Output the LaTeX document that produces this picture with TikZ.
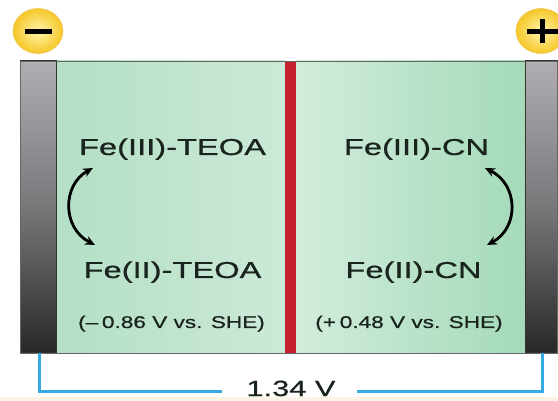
\documentclass[tikz,border=0pt]{standalone}
\usepackage{fontspec}
\setmainfont{Liberation Sans}
\newfontfamily\lblfont[FakeBold=0.6]{Liberation Sans}
\usetikzlibrary{arrows.meta}
\definecolor{membr}{HTML}{C4202E}
\definecolor{wire}{HTML}{35A9E1}
\definecolor{txt}{HTML}{1A241E}
\definecolor{cream}{RGB}{253,243,228}
\definecolor{lcl}{RGB}{180,223,198}
\definecolor{lcr}{RGB}{204,233,215}
\definecolor{rcl}{RGB}{210,236,220}
\definecolor{rcr}{RGB}{164,218,185}
\definecolor{termin}{RGB}{255,244,170}
\definecolor{termout}{RGB}{245,200,40}
\definecolor{termdraw}{RGB}{242,198,90}
\definecolor{eltop}{RGB}{176,174,179}
\definecolor{elmid}{RGB}{120,119,122}
\definecolor{elbot}{RGB}{40,40,40}
\definecolor{eldraw}{RGB}{50,50,50}
\newcommand\widetext[2]{\scalebox{#1}[1]{#2}}
\tikzset{
  bigtxt/.style={anchor=base, inner sep=0pt, text=txt, font=\lblfont\fontsize{23}{23}\selectfont},
  smalltxt/.style={anchor=base, inner sep=0pt, text=txt, font=\lblfont\fontsize{17}{17}\selectfont},
  volttxt/.style={anchor=base, inner sep=0pt, text=txt, font=\lblfont\fontsize{22}{22}\selectfont},
  redox/.style={{Stealth[length=10pt,width=9pt]}-{Stealth[length=10pt,width=9pt]}, line width=2.8pt, black},
  wireline/.style={wire, line width=3pt},
  terminal/.style={inner color=termin, outer color=termout, draw=termdraw, line width=0.6pt},
  electrode/.style={top color=eltop, bottom color=elbot, middle color=elmid, draw=eldraw, line width=1pt}
}
\begin{document}
\begin{tikzpicture}[x=1pt,y=-1pt]
\useasboundingbox (0,0) rectangle (558,401);
\fill[white] (0,0) rectangle (558,401);
\fill[cream] (0,397) rectangle (558,401);
% chambers
\fill[left color=lcl, right color=lcr] (56,61) rectangle (285,353);
\fill[left color=rcl, right color=rcr] (296,61) rectangle (525,353);
% membrane
\fill[membr] (285,61) rectangle (296,353);
% electrodes
\path[electrode] (20,61) rectangle (56,353);
\path[electrode] (525,61) rectangle (557,353);
\draw[gray!80!black, line width=0.6pt] (20,61) rectangle (557,353);
% terminals
\path[terminal] (38,31) ellipse [x radius=25, y radius=22.5];
\fill[black] (25,29) rectangle (52,34);
\path[terminal] (541,31) ellipse [x radius=25, y radius=22.5];
\fill[black] (527,29) rectangle (558,34);
\fill[black] (539.5,19) rectangle (544.5,43);
% texts
\node[bigtxt] (f3t) at (172.5,155) {\widetext{1.42}{Fe(III)-TEOA}};
\node[bigtxt] (f2t) at (172.5,278) {\widetext{1.42}{Fe(II)-TEOA}};
\node[bigtxt] (f3c) at (416.5,155) {\widetext{1.42}{Fe(III)-CN}};
\node[bigtxt] (f2c) at (413.5,278) {\widetext{1.42}{Fe(II)-CN}};
\node[smalltxt] (pl) at (171.5,328) {\widetext{1.33}{(–\,0.86 V vs. SHE)}};
\node[smalltxt] (pr) at (409,328) {\widetext{1.33}{(+\,0.48 V vs. SHE)}};
\node[volttxt] (v) at (291,396) {\widetext{1.4}{1.34 V}};
% redox arrows
\coordinate (la) at (93,168); \coordinate (lb) at (95,245);
\coordinate (ra) at (485,168); \coordinate (rb) at (487,245);
\draw[redox] (la) .. controls (62,185) and (62,228) .. (lb);
\draw[redox] (ra) .. controls (519,185) and (519,228) .. (rb);
% wire
\coordinate (wl) at (39,353); \coordinate (wr) at (542,353);
\coordinate (wlm) at (222,392); \coordinate (wrm) at (357,392);
\draw[wireline] (wl) -- (39,392) -- (wlm);
\draw[wireline] (wrm) -- (542,392) -- (wr);
\end{tikzpicture}
\end{document}
